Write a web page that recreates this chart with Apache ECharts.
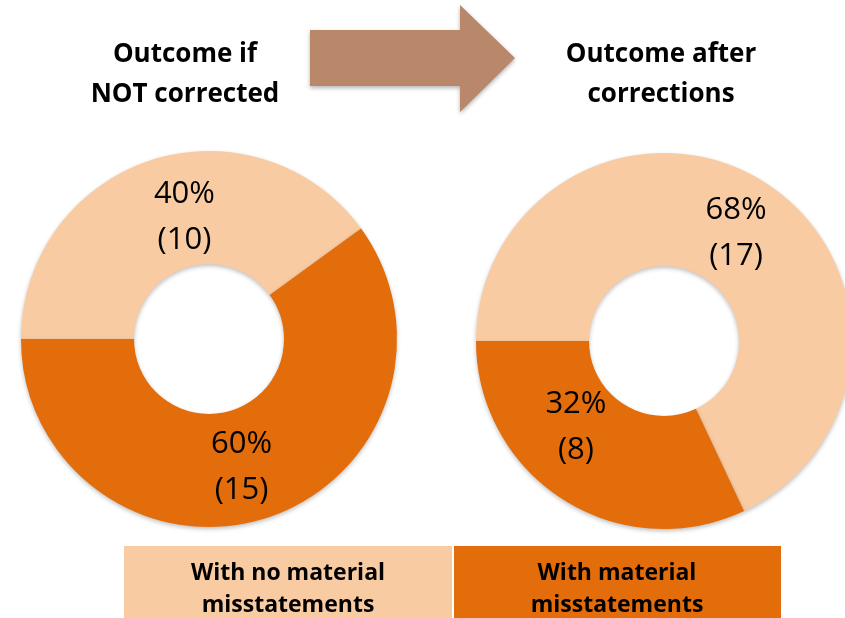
<!DOCTYPE html>
<html>
<head>
<meta charset="utf-8">
<script src="https://cdn.jsdelivr.net/npm/echarts@6/dist/echarts.min.js"></script>
<style>
  html, body { margin: 0; padding: 0; background: #fff; }
  #main { width: 845px; height: 618px; }
</style>
</head>
<body>
<div id="main"></div>
<script>
// categories (legend boxes at the bottom)
var categories = ['With no material misstatements', 'With material misstatements'];
var legendLines = ['With no material\nmisstatements', 'With material\nmisstatements'];
// counts per outcome
var countsBefore = [10, 15];
var countsAfter = [17, 8];
// panel titles
var panelTitles = ['Outcome if\nNOT corrected', 'Outcome after\ncorrections'];

var LIGHT = '#F9CBA2';
var DARK = '#E36C0B';
var FONT = '"Open Sans", "Noto Sans", sans-serif';

var chart = echarts.init(document.getElementById('main'));

// small nudges so the labels sit where the original has them
var labelNudge = [
  [[17, 6], [-9, 0]],
  [[0, 6], [-16, -27]]
];

function pieSeries(idx, counts, center) {
  return {
    type: 'pie',
    center: center,
    radius: [75, 188],
    startAngle: 180,
    clockwise: true,
    percentPrecision: 0,
    silent: true,
    animation: false,
    data: categories.map(function (name, i) {
      return { name: name, value: counts[i], itemStyle: { color: i === 0 ? LIGHT : DARK } };
    }),
    itemStyle: {
      borderWidth: 0,
      shadowBlur: 4,
      shadowOffsetY: 2,
      shadowColor: 'rgba(0,0,0,0.25)'
    },
    label: {
      show: true,
      position: 'inside',
      formatter: '{d}%\n({c})',
      color: '#000',
      fontFamily: FONT,
      fontSize: 31,
      lineHeight: 46,
      align: 'center'
    },
    labelLine: { show: false },
    labelLayout: function (p) {
      var n = labelNudge[idx][p.dataIndex];
      return { dx: n[0], dy: n[1] };
    }
  };
}

function titleText(x, text) {
  return {
    type: 'text', x: x, y: 35,
    style: { text: text, fill: '#000', font: 'bold 26px ' + FONT, textAlign: 'center', lineHeight: 40 }
  };
}

function legendText(x, text) {
  return {
    type: 'text', x: x, y: 557,
    style: { text: text, fill: '#000', font: 'bold 23px ' + FONT, textAlign: 'center', lineHeight: 32 }
  };
}

var option = {
  backgroundColor: '#fff',
  series: [
    pieSeries(0, countsBefore, [209, 339]),
    pieSeries(1, countsAfter, [664, 341])
  ],
  graphic: [
    // arrow
    {
      type: 'polygon',
      shape: { points: [[310, 30], [460, 30], [460, 5], [515, 58], [460, 112], [460, 86], [310, 86]] },
      style: { fill: '#B9876A', shadowBlur: 4, shadowOffsetY: 2, shadowColor: 'rgba(0,0,0,0.3)' }
    },
    titleText(185, panelTitles[0]),
    titleText(661, panelTitles[1]),
    // legend boxes
    { type: 'rect', shape: { x: 124, y: 546, width: 328, height: 80 }, style: { fill: LIGHT } },
    { type: 'rect', shape: { x: 454, y: 546, width: 327, height: 80 }, style: { fill: DARK } },
    legendText(288, legendLines[0]),
    legendText(617, legendLines[1])
  ]
};

chart.setOption(option);
</script>
</body>
</html>
